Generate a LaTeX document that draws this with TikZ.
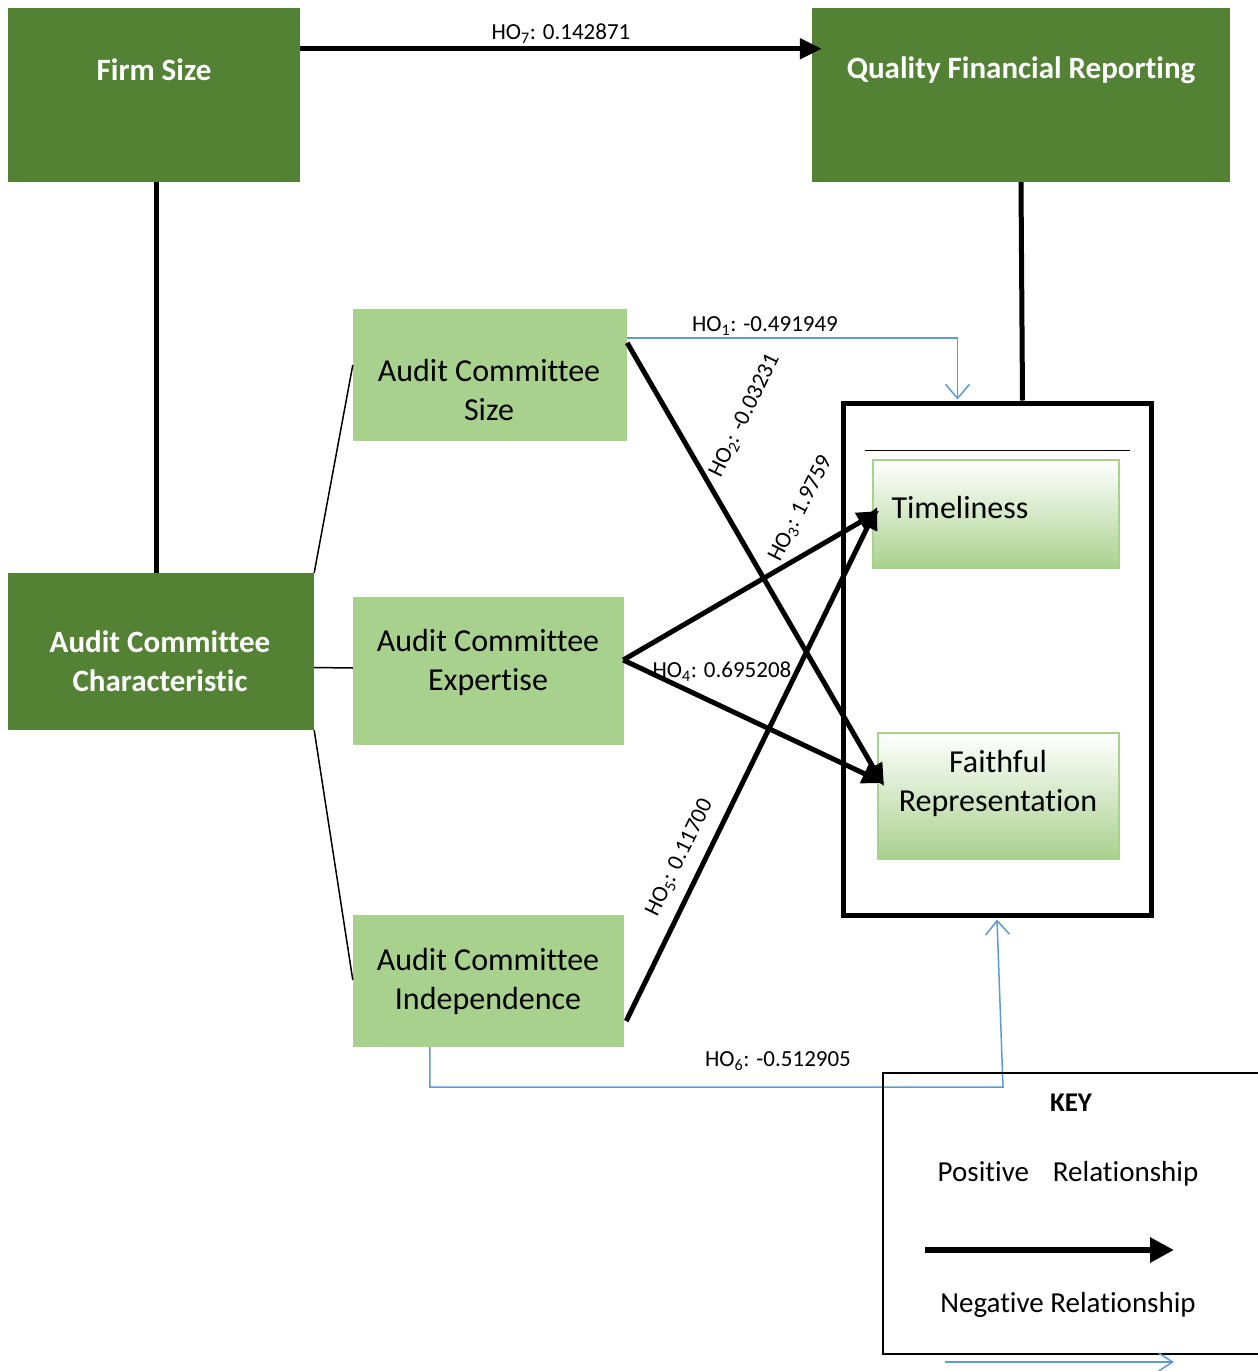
\documentclass[tikz,border=0pt]{standalone}
\usepackage{fontspec}
\setmainfont[Ligatures=NoCommon]{Carlito}
\usetikzlibrary{arrows.meta,calc}
\definecolor{dkgreen}{HTML}{548235}
\definecolor{ltgreen}{HTML}{A9D18E}
\definecolor{bluel}{HTML}{5B9BD5}
\begin{document}
\begin{tikzpicture}[x=1pt,y=-1pt,
  darkbox/.style={draw=none,fill=dkgreen,inner sep=0pt},
  lightbox/.style={draw=none,fill=ltgreen,inner sep=0pt},
  whitetitle/.style={text=white,font=\fontsize{31}{39}\selectfont\bfseries,align=center},
  boxtext/.style={font=\fontsize{32}{39}\selectfont,align=center},
  gradbox/.style={draw=ltgreen,line width=1.5pt,top color=white,bottom color=ltgreen,inner sep=0pt},
  holabel/.style={font=\fontsize{23}{27}\selectfont,inner sep=1pt},
  keytext/.style={font=\fontsize{29}{34}\selectfont},
  thickarrow/.style={line width=5pt,-{Triangle[length=22pt,width=20pt]}},
  thickline/.style={line width=5pt},
  thinline/.style={line width=1.5pt},
  bluearrow/.style={draw=bluel,line width=1.5pt,-{Straight Barb[length=14pt,width=24pt]}}
]
\useasboundingbox (0,0) rectangle (1258,1371);

% dark green boxes
\node[darkbox,minimum width=292pt,minimum height=174pt] (fs) at (154,95) {};
\node[whitetitle] (fst) at (154,70) {Firm Size};
\node[darkbox,minimum width=418pt,minimum height=174pt] (qfr) at (1021,95) {};
\node[whitetitle] (qfrt) at (1021,70) {Quality Financial Reporting};
\node[darkbox,minimum width=306pt,minimum height=157pt] (acc) at (161,651.5) {};
\node[whitetitle] (acct) at (160,661) {Audit Committee\\Characteristic};

% light green boxes
\node[lightbox,minimum width=274pt,minimum height=132pt] (acs) at (490,375) {};
\node[boxtext] (acst) at (489,390) {Audit Committee\\Size};
\node[lightbox,minimum width=271pt,minimum height=148pt] (ace) at (488.5,671) {};
\node[boxtext] (acet) at (488,662) {Audit Committee\\Expertise};
\node[lightbox,minimum width=271pt,minimum height=132pt] (aci) at (488.5,981) {};
\node[boxtext] (acit) at (488,981) {Audit Committee\\Independence};

% big box
\node[draw,line width=5pt,minimum width=308pt,minimum height=512pt,inner sep=0pt] (big) at (997,659) {};
\draw[line width=1pt] ($(big.north west)+(24,50)$) coordinate (hl1) -- ($(big.north east)+(-24,50)$) coordinate (hl2);
\node[gradbox,minimum width=246pt,minimum height=108pt] (tim) at (996,514) {};
\node[boxtext] (timt) at (960,507) {Timeliness};
\node[gradbox,minimum width=241pt,minimum height=126pt] (fr) at (998.5,796) {};
\node[boxtext] (frt) at (998,783) {Faithful\\Representation};

% structural lines
\draw[thickline] (fs.south) ++(2,0) coordinate (fsb) -- (fsb |- acc.north);
\draw[thickline] (qfr.south) coordinate (qb) -- ($(big.north west)+(182,0)$);
\draw[thinline] ($(acc.north east)$) -- ($(acs.west)+(0,-10)$);
\draw[thinline] ($(acc.east)+(0,16)$) -- ($(ace.west)+(0,-3)$);
\draw[thinline] (acc.south east) -- ($(aci.west)+(0,-1)$);

% HO7
\draw[thickarrow] ($(fs.north east)+(0,41)$) -- ($(qfr.north west)+(10,41)$)
  node[holabel,midway,above=2pt] (l7) {HO\textsubscript{7}: 0.142871};

% HO1 (blue)
\draw[bluearrow] ($(acs.north east)+(0,29)$) coordinate (h1s) -| ($(big.north west)+(117,-1)$);
\node[holabel] (l1) at (765,326) {HO\textsubscript{1}: -0.491949};

% HO2
\draw[thickarrow] ($(acs.north east)+(0,34)$) -- (884,786);
\node[holabel,rotate=64] (l2) at (745,416) {HO\textsubscript{2}: -0.03231};

% HO3
\draw[thickarrow] ($(ace.east)+(-1,-11)$) coordinate (hx) -- ($(tim.west)+(7,-3)$);
\node[holabel,rotate=63] (l3) at (801,509) {HO\textsubscript{3}: 1.9759};

% HO4
\draw[thickarrow] (hx) -- ($(fr.west)+(7,-13)$);
\node[holabel] (l4) at (722,672) {HO\textsubscript{4}: 0.695208};

% HO5
\draw[thickarrow] ($(aci.east)+(2,40)$) -- ($(tim.west)+(5,-7)$);
\node[holabel,rotate=64] (l5) at (680,858) {HO\textsubscript{5}: 0.11700};

% HO6 (blue)
\draw[bluearrow] ($(aci.south west)+(77,0)$) coordinate (h6s) -- ++(0,40) -- (1003,1087) coordinate (h6c) -- ($(big.south)+(0,2)$);
\node[holabel] (l6) at (778,1061) {HO\textsubscript{6}: -0.512905};

% key box
\draw[line width=2pt] (1264,1073) -- (883,1073) -- (883,1354) -- (1264,1354);
\node[keytext,font=\fontsize{27}{32}\selectfont\bfseries] (keyt) at (1071,1103) {KEY};
\node[keytext] (kpos) at (1068,1174) {Positive\hspace{0.6em} Relationship};
\coordinate (ka1) at (925,1250);
\coordinate (ka2) at (1174,1250);
\draw[line width=6pt,-{Triangle[length=24pt,width=24pt]}] (ka1) -- (ka2);
\node[keytext] (kneg) at (1068,1305) {Negative Relationship};
\coordinate (kb1) at (945,1362);
\coordinate (kb2) at (1174,1362);
\draw[draw=bluel,line width=1.5pt,-{Straight Barb[length=14pt,width=18pt]}] (kb1) -- (kb2);
\end{tikzpicture}
\end{document}
